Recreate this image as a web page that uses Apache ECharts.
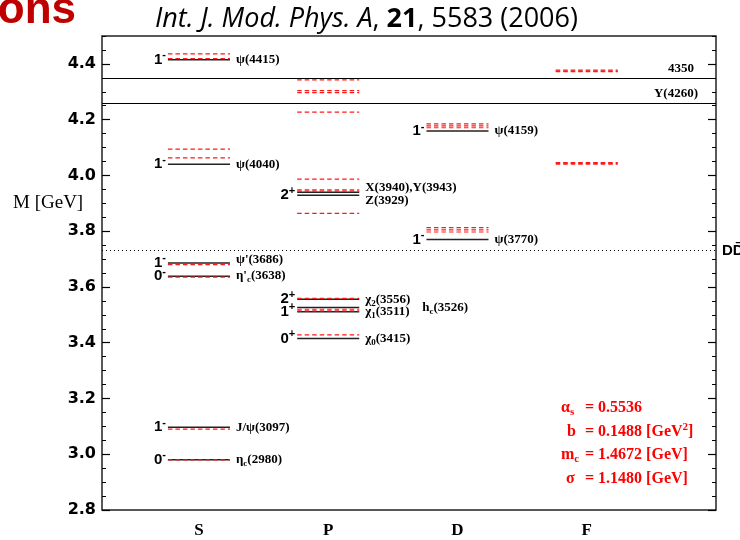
<!DOCTYPE html>
<html><head><meta charset="utf-8">
<script src="https://cdn.jsdelivr.net/npm/echarts@6/dist/echarts.min.js"></script>
<style>html,body{margin:0;padding:0;background:#fff}#c{width:740px;height:540px}</style>
</head><body><div id="c"></div>
<script>
// ---------- data ----------
const ORBITALS = ['S', 'P', 'D', 'F'];
const Y_TICKS = [2.8, 3.0, 3.2, 3.4, 3.6, 3.8, 4.0, 4.2, 4.4];

// experimental states (black solid): orbital index (1=S..4=F), mass [GeV], name
const EXP_ORBITAL = [1, 1, 1, 1, 1, 1, 2, 2, 2, 2, 2, 2, 3, 3];
const EXP_MASS = [4.415, 4.040, 3.686, 3.638, 3.097, 2.980, 3.940, 3.929, 3.556, 3.526, 3.511, 3.415, 4.159, 3.770];
const EXP_NAME = ['ψ(4415)', 'ψ(4040)', "ψ'(3686)", "η'_c(3638)", 'J/ψ(3097)', 'η_c(2980)',
  'X(3940),Y(3943)', 'Z(3929)', 'χ_2(3556)', 'h_c(3526)', 'χ_1(3511)', 'χ_0(3415)', 'ψ(4159)', 'ψ(3770)'];

// J^PC labels
const JPC_ORBITAL = [1, 1, 1, 1, 1, 1, 2, 2, 2, 2, 3, 3];
const JPC_MASS = [4.415, 4.040, 3.686, 3.638, 3.097, 2.980, 3.929, 3.556, 3.511, 3.415, 4.159, 3.770];
const JPC_TEXT = ['1^-', '1^-', '1^-', '0^-', '1^-', '0^-', '2^+', '2^+', '1^+', '0^+', '1^-', '1^-'];

// theoretical predictions (red dashed), masses [GeV]
const TH_S = [4.436, 4.419, 4.094, 4.063, 3.680, 3.635, 3.090, 2.980];
const TH_P = [4.343, 4.304, 4.297, 4.227, 3.987, 3.948, 3.944, 3.864, 3.559, 3.520, 3.514, 3.428];
const TH_D = [4.185, 4.178, 4.171, 3.813, 3.805, 3.797];
const TH_F = [4.378, 4.375, 4.372, 4.046, 4.043, 4.040];

// full-width reference lines
const REF_MASS = [4.35, 4.26];
const REF_NAME = ['4350', 'Y(4260)'];
const DD_MASS = 3.73;
const DD_NAME = 'DD̄';

// model parameters
const PARAM_SYMBOL = ['α_s', 'b', 'm_c', 'σ'];
const PARAM_VALUE = ['0.5536', '0.1488 [GeV^2]', '1.4672 [GeV]', '1.1480 [GeV]'];

// ---------- rendering ----------
const SERIF = 'Liberation Serif';
const SANS = 'Liberation Sans';
const HALF = 0.24;
const NAME_SHIFT = {2: [0, -3], 3: [0, -1], 6: [0, -5], 7: [0, 5], 9: [57, 0]};

function toRich(s) {
  return s.replace(/_(\w)/g, '{sub|$1}').replace(/\^(\S)/g, '{sup|$1}');
}
const RICH_NAME = {
  sub: {fontFamily: SERIF, fontWeight: 'bold', fontSize: 9, lineHeight: 9, verticalAlign: 'bottom', fill: '#000'}
};
const RICH_JPC = {
  sup: {fontFamily: SANS, fontWeight: 'bold', fontSize: 11, lineHeight: 11, verticalAlign: 'top', fill: '#000'}
};
const RICH_PARAM = {
  sub: {fontFamily: SERIF, fontWeight: 'bold', fontSize: 11, lineHeight: 11, verticalAlign: 'bottom', fill: '#ff0000'},
  sup: {fontFamily: SERIF, fontWeight: 'bold', fontSize: 11, lineHeight: 11, verticalAlign: 'top', fill: '#ff0000'}
};

const expData = EXP_MASS.map((m, i) => [EXP_ORBITAL[i], m]);
const jpcData = JPC_MASS.map((m, i) => [JPC_ORBITAL[i], m]);
const thData = [].concat(
  TH_S.map(m => [1, m]), TH_P.map(m => [2, m]), TH_D.map(m => [3, m]), TH_F.map(m => [4, m]));

function ends(api) {
  const c = api.value(0), m = api.value(1);
  return [api.coord([c - HALF, m]), api.coord([c + HALF, m])];
}

const axisY = (pos, minor) => ({
  type: 'value', min: 2.8, max: 4.5, position: pos,
  interval: minor ? 0.05 : 0.2,
  axisLine: {show: false}, splitLine: {show: false},
  axisTick: minor
    ? {inside: true, length: 4, lineStyle: {color: '#000', width: 1}}
    : {inside: true, length: 8, customValues: Y_TICKS, lineStyle: {color: '#000', width: 1.2}},
  axisLabel: (!minor && pos === 'left')
    ? {customValues: Y_TICKS, formatter: v => v.toFixed(1), fontFamily: 'DejaVu Sans', fontWeight: 'bold', fontSize: 16, color: '#000', margin: 6}
    : {show: false}
});

const paramGraphics = [];
const SYM_X = [561, 567, 561, 566];
PARAM_SYMBOL.forEach((s, i) => {
  const y = 408 + i * 23.5;
  paramGraphics.push({type: 'text', x: SYM_X[i], y: y, style: {text: toRich(s), fill: '#ff0000', fontFamily: SERIF, fontWeight: 'bold', fontSize: 16, lineHeight: 20, verticalAlign: 'middle', rich: RICH_PARAM}});
  paramGraphics.push({type: 'text', x: 585, y: y, style: {text: '= ' + toRich(PARAM_VALUE[i]), fill: '#ff0000', fontFamily: SERIF, fontWeight: 'bold', fontSize: 16, lineHeight: 20, verticalAlign: 'middle', rich: RICH_PARAM}});
});

const chart = echarts.init(document.getElementById('c'), null, {renderer: 'canvas'});
chart.setOption({
  animation: false,
  backgroundColor: '#fff',
  grid: {left: 102, right: 24, top: 36, bottom: 30, show: true, borderColor: '#222', borderWidth: 1.5, backgroundColor: 'transparent'},
  xAxis: {
    type: 'value', min: 0.25, max: 5,
    axisLine: {show: false}, axisTick: {show: false}, splitLine: {show: false},
    axisLabel: {customValues: [1, 2, 3, 4], formatter: v => ORBITALS[Math.round(v) - 1],
      margin: 12, fontFamily: SERIF, fontWeight: 'bold', fontSize: 17, color: '#000'}
  },
  yAxis: [axisY('left', false), axisY('left', true), axisY('right', false), axisY('right', true)],
  graphic: [
    {type: 'text', x: 76, y: 33, style: {text: 'ons', fill: '#c00000', fontFamily: 'Liberation Sans', fontWeight: 'bold', fontSize: 44, align: 'right', verticalAlign: 'bottom'}},
    {type: 'text', x: 155, y: 19, style: {
      text: '{i|Int. J. Mod. Phys. A}, {b|21}, 5583 (2006)', fill: '#000',
      fontFamily: 'Open Sans', fontSize: 27, verticalAlign: 'middle',
      rich: {i: {fontFamily: 'Open Sans', fontStyle: 'italic', fontSize: 27, fill: '#000'},
             b: {fontFamily: 'Open Sans', fontWeight: 'bold', fontSize: 27, fill: '#000'}}}},
    {type: 'text', x: 13, y: 203, style: {text: 'M [GeV]', fill: '#000', fontFamily: SERIF, fontSize: 19, verticalAlign: 'middle'}}
  ].concat(paramGraphics),
  series: [
    {
      type: 'custom', name: 'experiment', data: expData, z: 3,
      renderItem(params, api) {
        const i = params.dataIndex;
        const [a, b] = ends(api);
        const sh = NAME_SHIFT[i] || [0, 0];
        return {type: 'group', children: [
          {type: 'line', shape: {x1: a[0], y1: a[1], x2: b[0], y2: b[1]}, style: {stroke: '#222', lineWidth: 1.5}},
          {type: 'text', style: {x: b[0] + 6 + sh[0], y: a[1] + sh[1], text: toRich(EXP_NAME[i]), fill: '#000',
            fontFamily: SERIF, fontWeight: 'bold', fontSize: 13, lineHeight: 17, align: 'left', verticalAlign: 'middle', rich: RICH_NAME}}
        ]};
      },
      markLine: {
        symbol: 'none', silent: true,
        data: [
          {yAxis: REF_MASS[0], lineStyle: {color: '#000', width: 1.2, type: 'solid'},
           label: {show: true, position: 'insideEndTop', distance: [22, 3], formatter: REF_NAME[0], fontFamily: SERIF, fontWeight: 'bold', fontSize: 13, color: '#000'}},
          {yAxis: REF_MASS[1], lineStyle: {color: '#000', width: 1.2, type: 'solid'},
           label: {show: true, position: 'insideEndTop', distance: [18, 3], formatter: REF_NAME[1], fontFamily: SERIF, fontWeight: 'bold', fontSize: 13, color: '#000'}},
          {yAxis: DD_MASS, lineStyle: {color: '#000', width: 1, type: [1, 3]},
           label: {show: true, position: 'end', distance: 6, formatter: DD_NAME, fontFamily: SANS, fontWeight: 'bold', fontSize: 15, color: '#000'}}
        ]
      }
    },
    {
      type: 'custom', name: 'theory', data: thData, z: 4,
      renderItem(params, api) {
        const [a, b] = ends(api);
        return {type: 'line', shape: {x1: a[0], y1: a[1], x2: b[0], y2: b[1]},
          style: {stroke: '#ff1a1a', lineWidth: 1.2, lineDash: [4.5, 3]}};
      }
    },
    {
      type: 'custom', name: 'jpc', data: jpcData, z: 3,
      renderItem(params, api) {
        const i = params.dataIndex;
        const [a] = ends(api);
        return {type: 'text', style: {x: a[0] - 2, y: a[1], text: toRich(JPC_TEXT[i]), fill: '#000',
          fontFamily: SANS, fontWeight: 'bold', fontSize: 15, lineHeight: 20, align: 'right', verticalAlign: 'middle', rich: RICH_JPC}};
      }
    }
  ]
});
</script></body></html>
